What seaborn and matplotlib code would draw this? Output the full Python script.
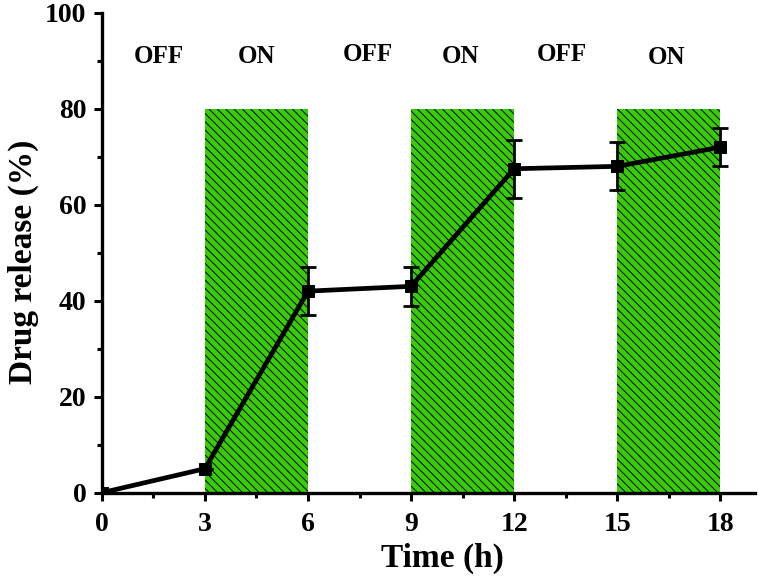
import numpy as np
import pandas as pd
import matplotlib
matplotlib.use("Agg")
import matplotlib.pyplot as plt
import seaborn as sns
from matplotlib.ticker import MultipleLocator

# data
time_h = [0, 3, 6, 9, 12, 15, 18]
release = [0, 5, 42, 43, 67.5, 68, 72]
err = [0, 0, 5, 4, 6, 5, 4]

# light ON windows
on_start = [3, 9, 15]
on_end = [6, 12, 18]

state_labels = ["OFF", "ON", "OFF", "ON", "OFF", "ON"]
label_x = [1.65, 4.5, 7.75, 10.45, 13.4, 16.45]
label_y = [90.8, 90.8, 91.4, 90.8, 91.4, 90.6]

sns.set_theme(style="ticks")
plt.rcParams['font.family'] = ['Liberation Serif', 'DejaVu Serif']
plt.rcParams['font.weight'] = 'bold'
plt.rcParams['text.color'] = 'black'
plt.rcParams['axes.labelcolor'] = 'black'
plt.rcParams['hatch.linewidth'] = 0.7
plt.rcParams['hatch.color'] = 'black'

df = pd.DataFrame({"t": time_h, "r": release})

fig = plt.figure(figsize=(7.6, 5.81), dpi=100)
ax = fig.add_axes([0.134, 0.152, 0.859, 0.826])

for s, e in zip(on_start, on_end):
    ax.bar(s, 80, width=e - s, align='edge', color='#37cc06',
           edgecolor='black', linewidth=0, hatch='\\\\\\\\', zorder=1)

ax.errorbar(time_h, release, yerr=err, fmt='none', ecolor='black',
            elinewidth=2, capsize=6, capthick=2, zorder=3)
sns.lineplot(data=df, x="t", y="r", ax=ax, color='black', linewidth=3.4,
             marker='s', markersize=8, markeredgecolor='black', zorder=4)

for txt, x, y in zip(state_labels, label_x, label_y):
    ax.text(x, y, txt, ha='center', va='center', fontsize=18,
            fontweight='bold', color='black')

ax.set_xlim(0, 19)
ax.set_ylim(0, 100)
ax.set_xticks([0, 3, 6, 9, 12, 15, 18])
ax.set_yticks([0, 20, 40, 60, 80, 100])
ax.xaxis.set_minor_locator(MultipleLocator(1.5))
ax.yaxis.set_minor_locator(MultipleLocator(10))
ax.tick_params(which='major', direction='out', length=6, width=2.2,
               labelsize=20, colors='black', pad=5)
ax.tick_params(axis='x', which='major', pad=8)
ax.tick_params(which='minor', direction='out', length=3.5, width=2.2,
               colors='black')
for lab in ax.get_xticklabels() + ax.get_yticklabels():
    lab.set_fontweight('bold')

ax.set_xlabel("Time (h)", fontsize=24, fontweight='bold')
ax.set_ylabel("Drug release (%)", fontsize=24, fontweight='bold')
ax.xaxis.set_label_coords(0.521, -0.105)
ax.yaxis.set_label_coords(-0.096, 0.481)

for side in ['top', 'right']:
    ax.spines[side].set_visible(False)
for side in ['left', 'bottom']:
    ax.spines[side].set_linewidth(2.4)
    ax.spines[side].set_color('black')

fig.savefig("out.png", dpi=100)
